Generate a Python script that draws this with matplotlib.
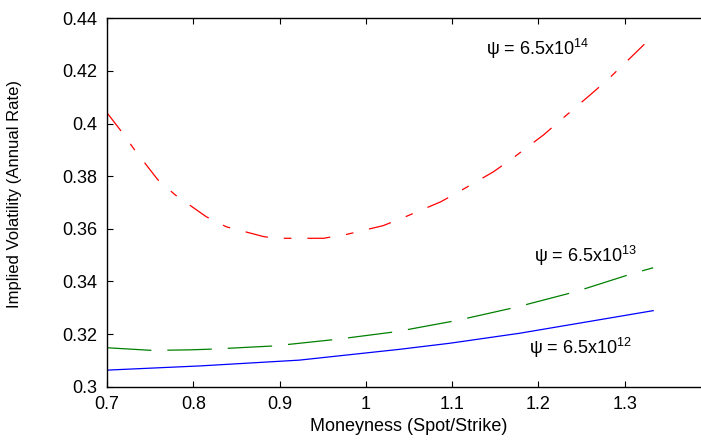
import matplotlib
matplotlib.use("Agg")
import matplotlib.pyplot as plt

plt.rcParams['font.family'] = ['Liberation Sans', 'DejaVu Sans']
plt.rcParams['mathtext.fontset'] = 'custom'
plt.rcParams['mathtext.rm'] = 'Liberation Sans'
plt.rcParams['mathtext.it'] = 'Liberation Sans:italic'
plt.rcParams['mathtext.default'] = 'regular'
plt.rcParams['lines.scale_dashes'] = False

# Data
red_x = [0.700, 0.716, 0.732, 0.759, 0.779, 0.815, 0.838, 0.882, 0.899, 0.951,
         0.978, 1.020, 1.046, 1.087, 1.110, 1.148, 1.170, 1.206, 1.225, 1.260,
         1.280, 1.312, 1.331]
red_y = [0.4041, 0.3973, 0.3900, 0.3786, 0.3729, 0.3646, 0.3608, 0.3570, 0.3564, 0.3564,
         0.3579, 0.3612, 0.3646, 0.3703, 0.3745, 0.3817, 0.3868, 0.3957, 0.4011, 0.4109,
         0.4166, 0.4267, 0.4328]

green_x = [0.700, 0.752, 0.796, 0.823, 0.894, 0.966, 1.035, 1.106, 1.174, 1.243, 1.310, 1.333]
green_y = [0.3148, 0.3138, 0.3140, 0.3143, 0.3155, 0.3180, 0.3209, 0.3252, 0.3302, 0.3361, 0.3431, 0.3452]

blue_x = [0.700, 0.808, 0.923, 1.039, 1.097, 1.178, 1.270, 1.333]
blue_y = [0.3063, 0.3079, 0.3101, 0.3142, 0.3165, 0.3203, 0.3254, 0.3289]

xticks = [0.7, 0.8, 0.9, 1.0, 1.1, 1.2, 1.3]
xtick_labels = ['0.7', '0.8', '0.9', '1', '1.1', '1.2', '1.3']
yticks = [0.30, 0.32, 0.34, 0.36, 0.38, 0.40, 0.42, 0.44]
ytick_labels = ['0.3', '0.32', '0.34', '0.36', '0.38', '0.4', '0.42', '0.44']

labels = [r'ψ = 6.5x$10^{14}$', r'ψ = 6.5x$10^{13}$', r'ψ = 6.5x$10^{12}$']
label_x = [1.139, 1.195, 1.189]
label_y = [0.4261, 0.3475, 0.3124]

fig = plt.figure(figsize=(7.01, 4.41), dpi=100)
ax = fig.add_axes([107/701, (441-386.7)/441, (711-107)/701, (386.7-18.3)/441])

ax.plot(red_x, red_y, color='#ff0000', lw=0.9, dashes=(16.5, 11.5, 5.5, 11.5))
ax.plot(green_x, green_y, color='#008000', lw=0.9, dashes=(32, 11.5))
ax.plot(blue_x, blue_y, color='#0000ff', lw=0.9)

ax.set_xlim(0.7, 1.4)
ax.set_ylim(0.30, 0.44)
ax.set_xticks(xticks)
ax.set_xticklabels(xtick_labels)
ax.set_yticks(yticks)
ax.set_yticklabels(ytick_labels)
ax.tick_params(direction='in', length=4.3, width=0.8, labelsize=13, pad=7,
               top=True, right=True, colors='black')
for s in ax.spines.values():
    s.set_linewidth(1.0)

ax.set_xlabel('Moneyness (Spot/Strike)', fontsize=13, labelpad=3)
ax.set_ylabel('Implied Volatility (Annual Rate)', fontsize=12)
ax.yaxis.set_label_coords(-0.141, 0.523)

for t, x, y in zip(labels, label_x, label_y):
    ax.text(x, y, t, fontsize=13, ha='left', va='baseline')

fig.savefig('out.png', dpi=100)
